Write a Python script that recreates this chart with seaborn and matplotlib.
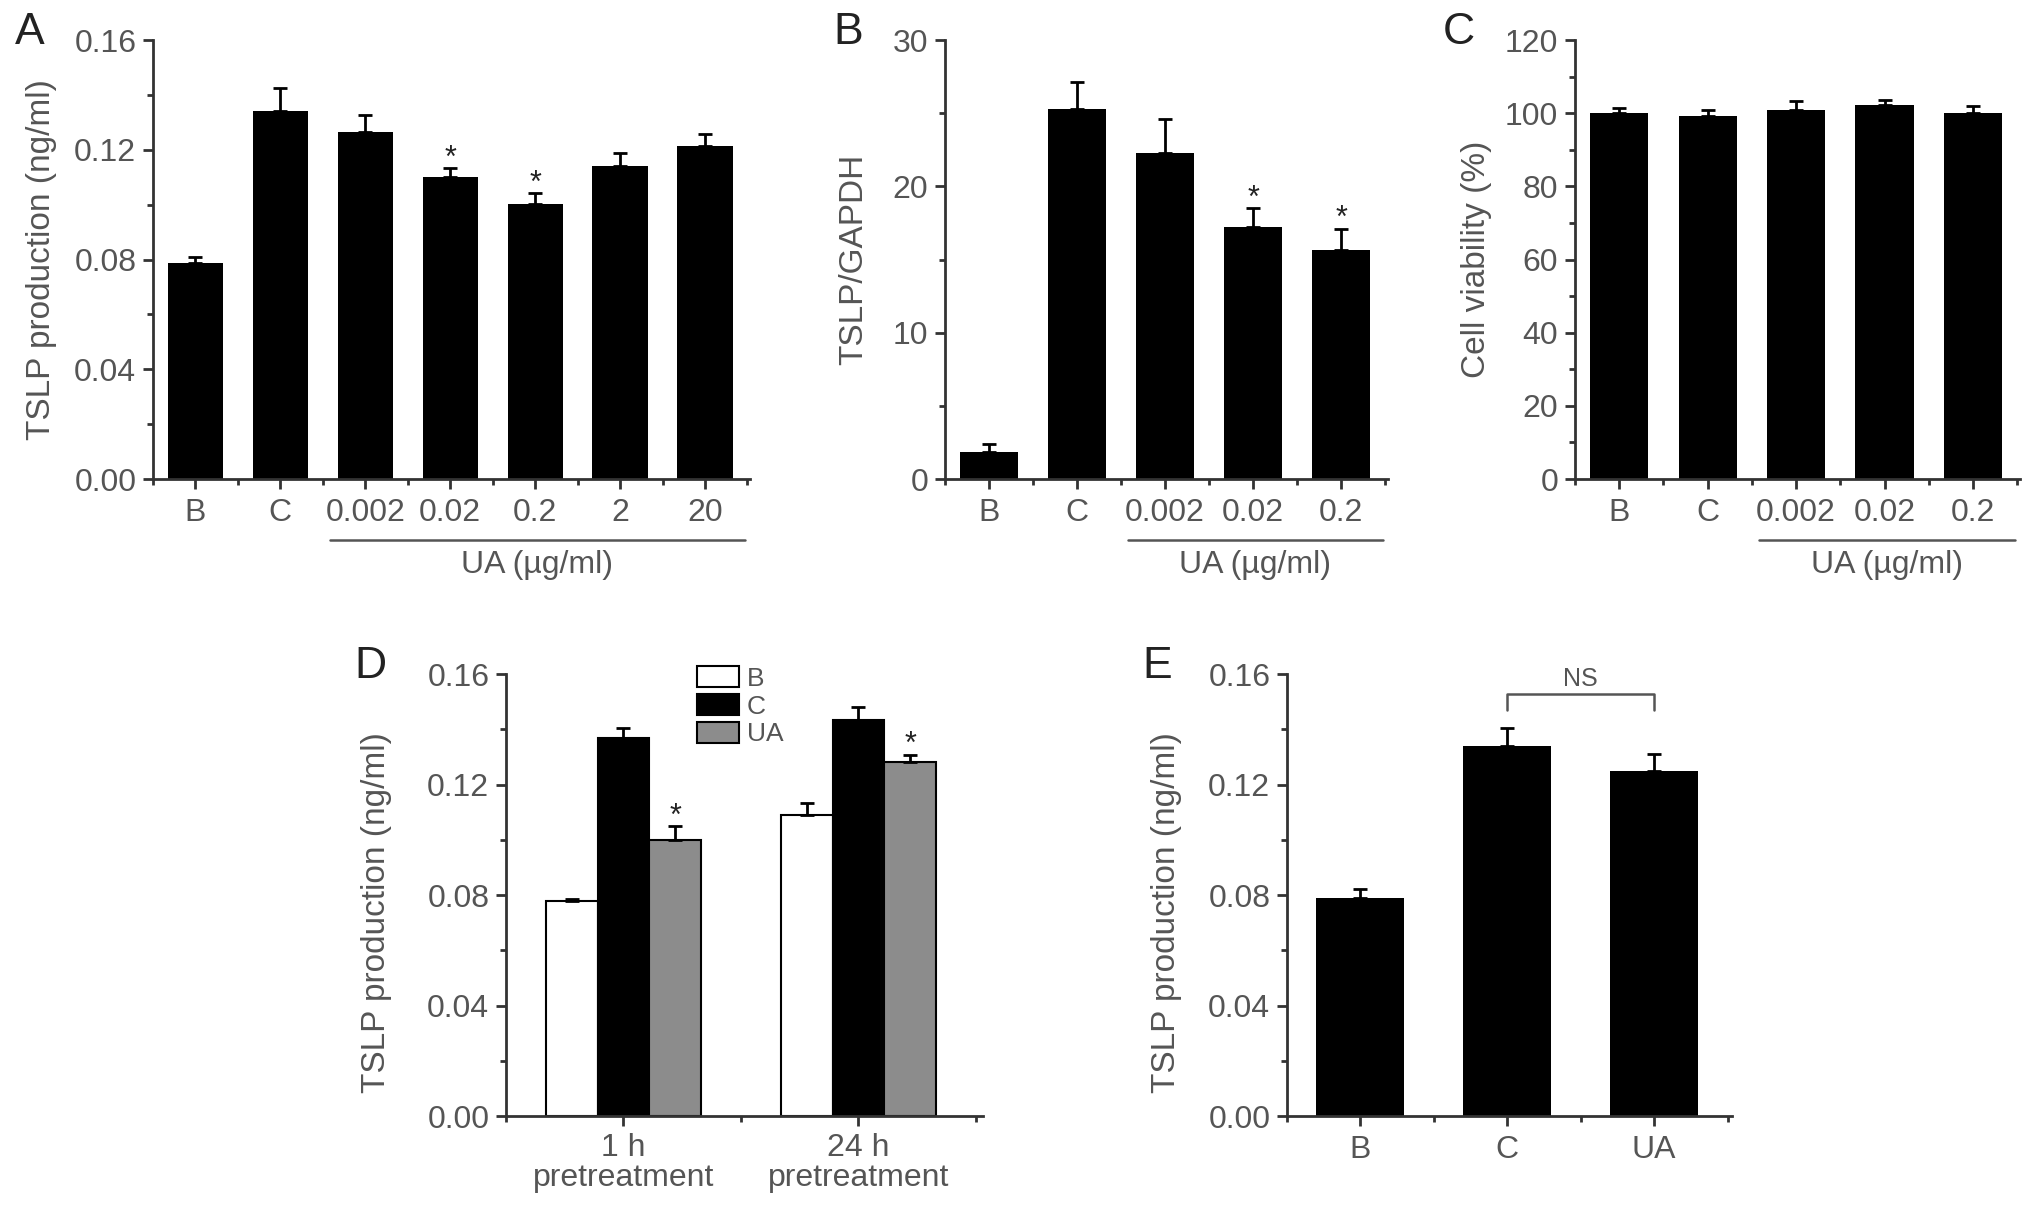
import matplotlib
matplotlib.use("Agg")
import matplotlib.pyplot as plt
import seaborn as sns
import pandas as pd
import numpy as np
from matplotlib.ticker import MultipleLocator, FixedLocator, FormatStrFormatter

# ---------------- data ----------------
a_groups = ["B", "C", "0.002", "0.02", "0.2", "2", "20"]
a_values = [0.0786, 0.1342, 0.1264, 0.1100, 0.1002, 0.1140, 0.1215]
a_errors = [0.0022, 0.0082, 0.0061, 0.0033, 0.0039, 0.0049, 0.0042]
a_sig = ["", "", "", "*", "*", "", ""]

b_groups = ["B", "C", "0.002", "0.02", "0.2"]
b_values = [1.83, 25.3, 22.3, 17.2, 15.65]
b_errors = [0.57, 1.8, 2.3, 1.3, 1.45]
b_sig = ["", "", "", "*", "*"]

c_groups = ["B", "C", "0.002", "0.02", "0.2"]
c_values = [100.0, 99.3, 101.0, 102.3, 100.0]
c_errors = [1.3, 1.6, 2.3, 1.2, 2.0]

d_times = ["1 h\npretreatment", "24 h\npretreatment"]
d_treatments = ["B", "C", "UA"]
d_b_values = [0.0778, 0.1089]
d_b_errors = [0.0008, 0.0044]
d_c_values = [0.1369, 0.1433]
d_c_errors = [0.0034, 0.0047]
d_ua_values = [0.1000, 0.1280]
d_ua_errors = [0.0048, 0.0028]
d_ua_sig = ["*", "*"]
d_colors = {"B": "white", "C": "black", "UA": "#8c8c8c"}

e_groups = ["B", "C", "UA"]
e_values = [0.0789, 0.1338, 0.1248]
e_errors = [0.0033, 0.0068, 0.0064]

ua_label = "UA (\u00b5g/ml)"
tslp_label = "TSLP production (ng/ml)"

# ---------------- style ----------------
sns.set_style("ticks")
plt.rcParams["font.family"] = ["Liberation Sans", "DejaVu Sans"]
TXT = "#555555"
AX = "#333333"
TICK_FS = 23
LABEL_FS = 24

fig = plt.figure(figsize=(20.32, 12.08), dpi=100)


def style_axes(ax, ymax, ymajor, yminor, fmt, n):
    sns.despine(ax=ax)
    for s in ("left", "bottom"):
        ax.spines[s].set_linewidth(2.0)
        ax.spines[s].set_color(AX)
    ax.set_ylim(0, ymax)
    ax.yaxis.set_major_locator(MultipleLocator(ymajor))
    ax.yaxis.set_minor_locator(MultipleLocator(yminor))
    ax.yaxis.set_major_formatter(FormatStrFormatter(fmt))
    ax.set_xlim(-0.5, n - 0.47)
    ax.xaxis.set_minor_locator(FixedLocator(np.arange(-0.5, n, 1.0)))
    ax.tick_params(axis="both", which="major", length=7, width=2, color=AX,
                   labelsize=TICK_FS, labelcolor=TXT)
    ax.tick_params(axis="both", which="minor", length=4, width=2, color=AX)
    ax.tick_params(axis="y", which="major", pad=5)
    ax.tick_params(axis="x", which="major", pad=7)
    ax.set_xlabel("")


def simple_bars(ax, groups, values, errors, width):
    df = pd.DataFrame({"group": groups, "value": values})
    sns.barplot(data=df, x="group", y="value", order=groups, color="black",
                saturation=1, width=width, errorbar=None, linewidth=0, ax=ax)
    cont = ax.containers[0]
    xs = [p.get_x() + p.get_width() / 2 for p in cont]
    hs = [p.get_height() for p in cont]
    ax.errorbar(xs, hs, yerr=[np.zeros(len(hs)), errors], fmt="none",
                ecolor="black", elinewidth=2, capsize=5, capthick=2, zorder=3)
    return xs, hs


def add_stars(ax, xs, hs, errors, sig):
    for x, h, e, s in zip(xs, hs, errors, sig):
        if s:
            ax.annotate(s, (x, h + e), xytext=(0, 1), textcoords="offset points",
                        ha="center", va="baseline", fontsize=22, color="#222222")


def ua_bracket(ax, n):
    tr = ax.get_xaxis_transform()
    ax.plot([1.58, n - 0.53], [-0.139, -0.139], color=TXT, lw=1.8,
             transform=tr, clip_on=False)
    ax.text((1.58 + n - 0.53) / 2, -0.195, ua_label, transform=tr,
            ha="center", va="center", fontsize=TICK_FS, color=TXT)


# ---------------- Panel A ----------------
axA = fig.add_axes([153 / 2032, 1 - 479 / 1208, 597 / 2032, 439 / 1208])
xs, hs = simple_bars(axA, a_groups, a_values, a_errors, 0.65)
add_stars(axA, xs, hs, a_errors, a_sig)
style_axes(axA, 0.16, 0.04, 0.02, "%.2f", len(a_groups))
axA.set_ylabel(tslp_label, fontsize=LABEL_FS, color=TXT)
axA.yaxis.set_label_coords(-0.16, 0.5)
ua_bracket(axA, len(a_groups))

# ---------------- Panel B ----------------
axB = fig.add_axes([945 / 2032, 1 - 479 / 1208, 443 / 2032, 439 / 1208])
xs, hs = simple_bars(axB, b_groups, b_values, b_errors, 0.66)
add_stars(axB, xs, hs, b_errors, b_sig)
style_axes(axB, 30, 10, 5, "%d", len(b_groups))
axB.set_ylabel("TSLP/GAPDH", fontsize=LABEL_FS, color=TXT)
axB.yaxis.set_label_coords(-0.17, 0.5)
ua_bracket(axB, len(b_groups))

# ---------------- Panel C ----------------
axC = fig.add_axes([1575 / 2032, 1 - 479 / 1208, 445 / 2032, 439 / 1208])
simple_bars(axC, c_groups, c_values, c_errors, 0.66)
style_axes(axC, 120, 20, 10, "%d", len(c_groups))
axC.set_ylabel("Cell viability (%)", fontsize=LABEL_FS, color=TXT)
axC.yaxis.set_label_coords(-0.187, 0.5)
ua_bracket(axC, len(c_groups))

# ---------------- Panel D ----------------
axD = fig.add_axes([506 / 2032, 1 - 1116 / 1208, 477 / 2032, 442 / 1208])
d_table = pd.DataFrame({
    "time": d_times * 3,
    "treatment": ["B"] * 2 + ["C"] * 2 + ["UA"] * 2,
    "value": d_b_values + d_c_values + d_ua_values,
})
sns.barplot(data=d_table, x="time", y="value", hue="treatment", order=d_times,
            hue_order=d_treatments, palette=d_colors, saturation=1, width=0.66,
            errorbar=None, edgecolor="black", linewidth=1.5, ax=axD)
d_err_lists = [d_b_errors, d_c_errors, d_ua_errors]
for cont, errs in zip(axD.containers, d_err_lists):
    xs = [p.get_x() + p.get_width() / 2 for p in cont]
    hs = [p.get_height() for p in cont]
    axD.errorbar(xs, hs, yerr=[np.zeros(len(hs)), errs], fmt="none",
                 ecolor="black", elinewidth=2, capsize=5, capthick=2, zorder=3)
    if cont is axD.containers[2]:
        add_stars(axD, xs, hs, errs, d_ua_sig)
handles, labels = axD.get_legend_handles_labels()
axD.legend(handles, labels, loc="upper left", bbox_to_anchor=(0.40, 1.018),
           frameon=False, fontsize=19, handlelength=1.6, handleheight=0.85,
           labelspacing=0.12, handletextpad=0.3, borderpad=0, borderaxespad=0,
           labelcolor=TXT)
style_axes(axD, 0.16, 0.04, 0.02, "%.2f", len(d_times))
axD.tick_params(axis="x", which="major", pad=5)
for lab in axD.get_xticklabels():
    lab.set_linespacing(1.0)
axD.set_ylabel(tslp_label, fontsize=LABEL_FS, color=TXT)
axD.yaxis.set_label_coords(-0.239, 0.46)

# ---------------- Panel E ----------------
axE = fig.add_axes([1287 / 2032, 1 - 1116 / 1208, 445 / 2032, 442 / 1208])
xs, hs = simple_bars(axE, e_groups, e_values, e_errors, 0.6)
style_axes(axE, 0.16, 0.04, 0.02, "%.2f", len(e_groups))
ytop = max(hs[1] + e_errors[1], hs[2] + e_errors[2]) + 0.012
axE.plot([xs[1], xs[1], xs[2], xs[2]], [ytop - 0.0055, ytop, ytop, ytop - 0.0055],
         color=TXT, lw=1.8, clip_on=False)
axE.text((xs[1] + xs[2]) / 2, ytop + 0.0032, "NS", ha="center", va="baseline",
         fontsize=18, color=TXT)
axE.set_ylabel(tslp_label, fontsize=LABEL_FS, color=TXT)
axE.yaxis.set_label_coords(-0.236, 0.46)

# ---------------- panel letters ----------------
for letter, (px, py) in {"A": (30, 33), "B": (848, 33), "C": (1459, 32),
                         "D": (370, 666), "E": (1157, 666)}.items():
    fig.text(px / 2032, 1 - py / 1208, letter, fontsize=32, color="#222222",
             ha="center", va="center")

fig.savefig("out.png", dpi=100)
